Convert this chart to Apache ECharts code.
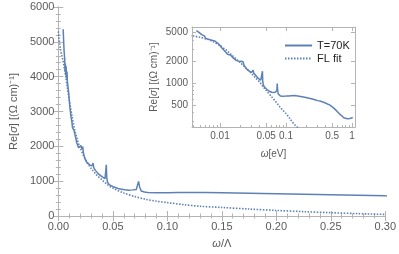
<!DOCTYPE html>
<html><head><meta charset="utf-8">
<script src="https://cdn.jsdelivr.net/npm/echarts@6/dist/echarts.min.js"></script>
<style>html,body{margin:0;padding:0;background:#fff}#c{width:399px;height:254px}</style>
</head><body><div id="c"></div>
<script>
// Experimental optical conductivity, T=70K (omega in eV ~ omega/Lambda)
const omegaExp=[0.0044,0.0048,0.0053,0.0058,0.0061,0.0064,0.0068,0.0071,0.0075,0.0079,0.0083,0.0088,0.0094,0.0100,0.0106,0.0112,0.0118,0.0124,0.0130,0.0137,0.0144,0.0152,0.0160,0.0168,0.0176,0.0185,0.0193,0.0200,0.0208,0.0216,0.0224,0.0230,0.0240,0.0250,0.0262,0.0275,0.0290,0.0300,0.0310,0.0318,0.0325,0.0340,0.0355,0.0370,0.0385,0.0400,0.0415,0.0428,0.0435,0.0440,0.0444,0.0452,0.0468,0.0490,0.0510,0.0530,0.0556,0.0580,0.0610,0.0644,0.0680,0.0715,0.0728,0.0736,0.0745,0.0760,0.0790,0.0820,0.0900,0.1000,0.1100,0.1200,0.1350,0.1500,0.1750,0.2000,0.2250,0.2500,0.2750,0.3000,0.3270,0.3800,0.4640,0.5300,0.5860,0.6450,0.6980,0.7500,0.7840,0.8500,0.9330,1.0260];
const sigmaExp=[5360,5050,4700,4520,4150,4380,4050,4300,3950,4150,3850,3720,3550,3330,3100,2960,2800,2700,2530,2500,2460,2340,2230,2110,2080,1960,2010,1950,2020,1920,1990,1800,1690,1600,1540,1490,1460,1420,1440,1520,1380,1310,1260,1200,1160,1130,1110,1070,1100,1470,1100,960,900,860,830,810,780,770,755,740,750,760,800,995,840,720,690,672,665,668,672,676,678,670,655,640,625,610,595,578,570,545,500,455,417,380,357,335,328,325,328,338];
// Fermi-liquid fit
const omegaFit=[0,0.001,0.002,0.003,0.004,0.005,0.0065,0.008,0.010,0.0125,0.015,0.0175,0.020,0.025,0.030,0.035,0.040,0.045,0.050,0.060,0.070,0.080,0.090,0.100,0.115,0.130,0.150,0.175,0.200,0.225,0.250,0.275,0.300];
const sigmaFit=[5300,4980,4780,4620,4500,4330,4050,3740,3330,2870,2470,2180,1960,1610,1370,1180,1040,900,800,660,560,480,425,385,325,280,245,200,160,125,95,68,45];
// Tick labels
const mainXTicks=[0,0.05,0.10,0.15,0.20,0.25,0.30];
const mainYTicks=[0,1000,2000,3000,4000,5000,6000];
const insetXTicks=[0.01,0.05,0.1,0.5,1];
const insetXMinor=[0.004,0.005,0.006,0.007,0.008,0.009,0.02,0.03,0.04,0.06,0.07,0.08,0.09,0.2,0.3,0.4,0.6,0.7,0.8,0.9];
const insetYTicks=[500,1000,2000,5000];
const insetYMinor=[300,400,600,700,800,900,3000,4000];

const blue='#5E81B5', frame='#b4b4b4', lab='#5a5a5a', FF='Liberation Sans';
const pairs=(xs,ys)=>xs.map((x,i)=>[x,ys[i]]);
const expData=pairs(omegaExp,sigmaExp);
const fitData=pairs(omegaFit,sigmaFit);
const fitLog=fitData.filter(p=>p[0]>0);

const rich={a:{fontFamily:FF,fontSize:11,color:lab},b:{fontFamily:FF,fontSize:11,color:lab,fontStyle:'italic'}};
const richS={a:{fontFamily:FF,fontSize:10,color:lab},b:{fontFamily:FF,fontSize:10,color:lab,fontStyle:'italic'}};
const line={show:true,lineStyle:{color:frame,width:1}};
const tick=(len)=>({show:true,inside:true,length:len,lineStyle:{color:frame}});
const minor={show:true,splitNumber:5,length:2.5,lineStyle:{color:frame}};

const option={
  animation:false,
  grid:[
    {left:47,top:7,width:340,height:209.5,show:false},
    {left:192,top:27,width:163,height:100,show:true,backgroundColor:'#fff',borderWidth:0}
  ],
  legend:{data:['T=70K','FL fit'],orient:'vertical',left:279,top:35,itemWidth:27,itemHeight:8,itemGap:2,
    itemStyle:{opacity:0},
    textStyle:{fontFamily:FF,fontSize:11,color:'#222'}},
  xAxis:[
    {gridIndex:0,type:'value',min:0,max:0.3,interval:0.05,position:'bottom',axisLine:line,axisTick:tick(5),minorTick:minor,splitLine:{show:false},
     axisLabel:{fontFamily:FF,fontSize:11,color:lab,margin:5,formatter:v=>v.toFixed(2)},
     name:'{b|ω}{a|/Λ}',nameLocation:'middle',nameGap:22,nameTextStyle:{rich:rich}},
    {gridIndex:0,type:'value',min:0,max:0.3,interval:0.05,position:'top',axisLine:line,axisTick:tick(5),minorTick:minor,splitLine:{show:false},axisLabel:{show:false}},
    {gridIndex:1,type:'log',min:0.00377,max:1.11,position:'bottom',axisLine:line,
     axisTick:{show:true,inside:true,length:4,lineStyle:{color:frame},customValues:insetXTicks},splitLine:{show:false},
     axisLabel:{fontFamily:FF,fontSize:10,color:lab,margin:4,customValues:insetXTicks,formatter:v=>String(+v.toPrecision(3))},
     name:'{b|ω}{a|[eV]}',nameLocation:'middle',nameGap:22,nameTextStyle:{rich:richS}},
    {gridIndex:1,type:'log',min:0.00377,max:1.11,position:'bottom',axisLine:{show:false},
     axisTick:{show:true,inside:true,length:2,lineStyle:{color:frame},customValues:insetXMinor},splitLine:{show:false},axisLabel:{show:false}},
    {gridIndex:1,type:'log',min:0.00377,max:1.11,position:'top',axisLine:line,
     axisTick:{show:true,inside:true,length:4,lineStyle:{color:frame},customValues:insetXTicks},splitLine:{show:false},axisLabel:{show:false}}
  ],
  yAxis:[
    {gridIndex:0,type:'value',min:0,max:6000,interval:1000,position:'left',axisLine:line,axisTick:tick(5),minorTick:minor,splitLine:{show:false},
     axisLabel:{fontFamily:FF,fontSize:11,color:lab,margin:4,formatter:v=>String(v)},
     name:'{a|Re[}{b|σ}{a|] [(Ω cm)⁻¹]}',nameLocation:'middle',nameGap:32,nameTextStyle:{rich:rich}},
    {gridIndex:0,type:'value',min:0,max:6000,interval:1000,position:'right',axisLine:line,axisTick:tick(5),minorTick:minor,splitLine:{show:false},axisLabel:{show:false}},
    {gridIndex:1,type:'log',min:250,max:6000,position:'left',axisLine:line,
     axisTick:{show:true,inside:true,length:4,lineStyle:{color:frame},customValues:insetYTicks},splitLine:{show:false},
     axisLabel:{fontFamily:FF,fontSize:10,color:lab,margin:4,customValues:insetYTicks,formatter:v=>String(Math.round(v))},
     name:'{a|Re[}{b|σ}{a|] [(Ω cm)⁻¹]}',nameLocation:'middle',nameGap:33,nameTextStyle:{rich:richS}},
    {gridIndex:1,type:'log',min:250,max:6000,position:'left',axisLine:{show:false},
     axisTick:{show:true,inside:true,length:2,lineStyle:{color:frame},customValues:insetYMinor},splitLine:{show:false},axisLabel:{show:false}},
    {gridIndex:1,type:'log',min:250,max:6000,position:'right',axisLine:line,
     axisTick:{show:true,inside:true,length:4,lineStyle:{color:frame},customValues:insetYTicks},splitLine:{show:false},axisLabel:{show:false}}
  ],
  series:[
    {name:'T=70K',type:'line',xAxisIndex:0,yAxisIndex:0,data:expData,symbol:'none',lineStyle:{color:blue,width:1.5},itemStyle:{color:blue}},
    {name:'FL fit',type:'line',xAxisIndex:0,yAxisIndex:0,data:fitData,symbol:'none',smooth:0.3,lineStyle:{color:blue,width:1.6,type:[1.5,1.5]},itemStyle:{color:blue}},
    {name:'T=70K',type:'line',xAxisIndex:2,yAxisIndex:2,data:expData,symbol:'none',lineStyle:{color:blue,width:1.5},itemStyle:{color:blue}},
    {name:'FL fit',type:'line',xAxisIndex:2,yAxisIndex:2,data:fitLog,symbol:'none',smooth:0.3,lineStyle:{color:blue,width:1.6,type:[1.5,1.5]},itemStyle:{color:blue}}
  ]
};
echarts.init(document.getElementById('c'),null,{renderer:'canvas'}).setOption(option);
</script></body></html>
